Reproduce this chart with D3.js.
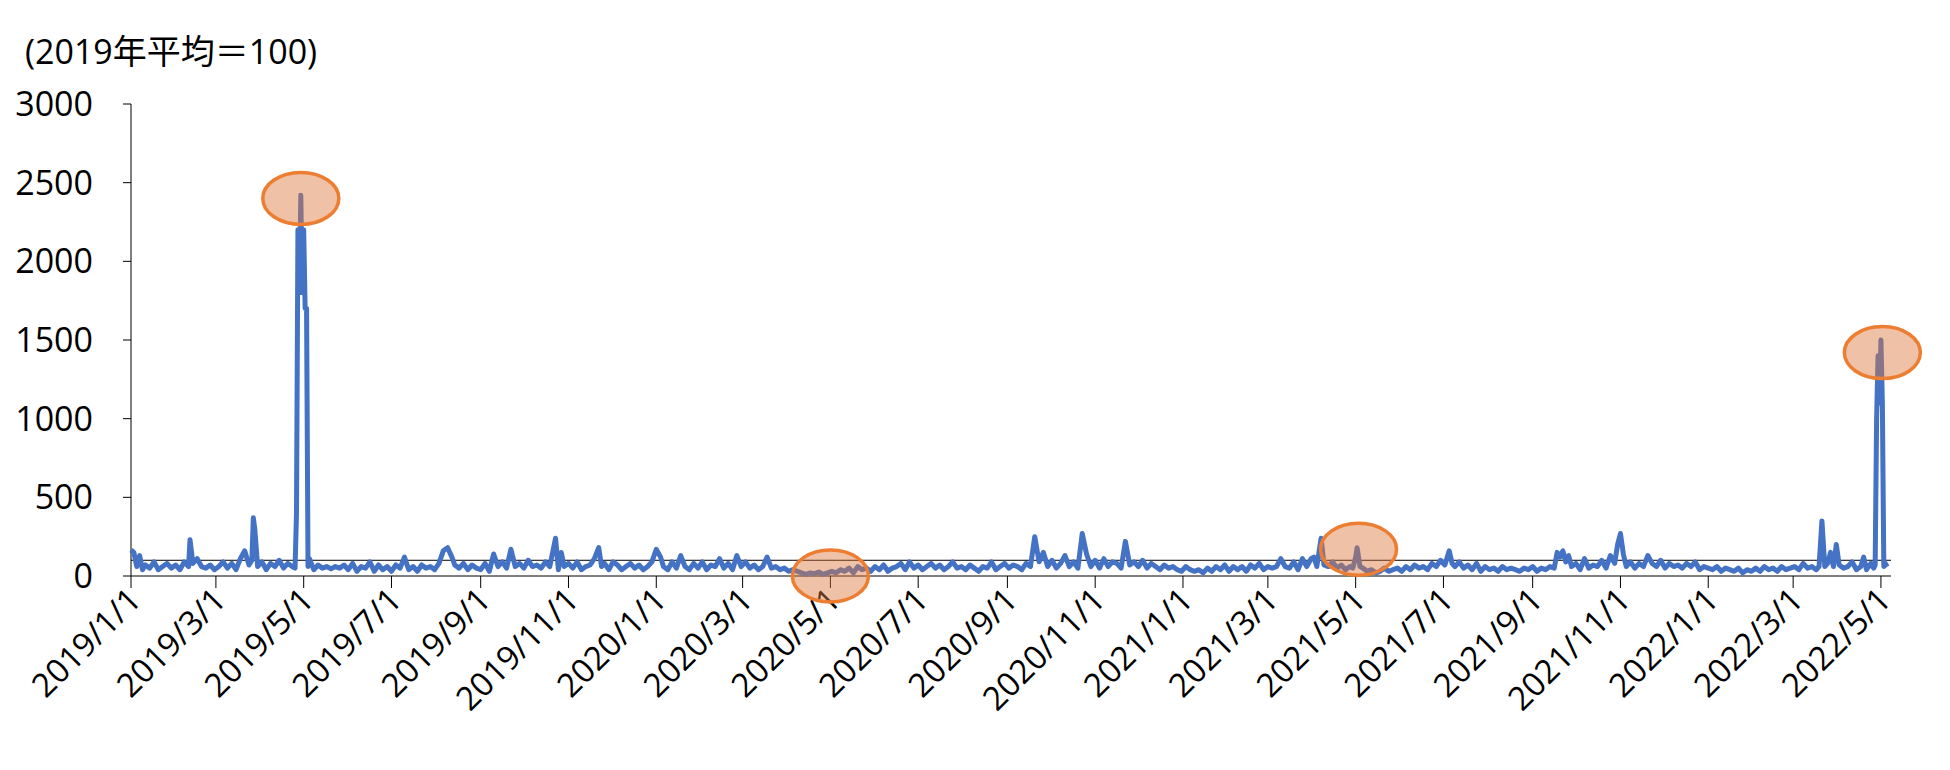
<!DOCTYPE html>
<html><head><meta charset="utf-8">
<script src="https://cdn.jsdelivr.net/npm/d3@7"></script>
<style>body{margin:0;background:#fff}text{font-family:"Open Sans","Noto Sans CJK JP",sans-serif}</style>
</head><body><svg id="c" width="1950" height="770"></svg>
<script>
// [days since 2019/1/1, index value (2019 avg = 100)]
const pts2019 = [[0,165],[2,150],[4,60],[6,130],[8,40],[10,70],[13,50],[16,90],[19,40],[22,60],[25,80],[28,50],[31,70],[34,40],[37,90],[40,60],[41,230],[43,80],[46,110],[49,60],[52,50],[55,70],[58,40],[61,60],[64,90],[67,50],[70,80],[73,40],[76,110],[79,160],[82,70],[84,100],[85,370],[86,300],[88,60],[91,90],[94,40],[97,80],[100,60],[103,100],[106,50],[109,80],[112,60],[114,50],[115,400],[116,2200],[117,1800],[118,2420],[119,1800],[120,2200],[121,1700],[122,1700],[123,60],[124,110],[127,40],[130,70],[133,50],[136,60],[139,45],[142,60],[145,50],[148,70],[151,40],[154,80],[157,30],[160,60],[163,50],[166,90],[169,30],[172,70],[175,40],[178,60],[181,30],[184,70],[187,50],[190,120],[193,40],[196,60],[199,30],[202,70],[205,50],[208,60],[211,40],[214,80],[217,160],[220,180],[223,120],[225,70],[228,50],[231,80],[234,40],[237,70],[240,50],[243,40],[246,80],[249,30],[252,140],[255,60],[258,90],[261,50],[264,170],[267,60],[270,80],[273,50],[276,100],[279,60],[282,70],[285,50],[288,90],[291,60],[295,240],[297,40],[299,150],[301,60],[304,80],[307,50],[310,90],[313,40],[316,60],[319,70],[322,110],[325,180],[327,60],[329,80],[332,40],[335,90],[338,70],[341,40],[344,60],[347,80],[350,50],[353,70],[356,40],[359,60],[362,90]];
const pts2020 = [[365,170],[368,120],[370,60],[373,40],[376,90],[379,50],[382,130],[385,60],[388,40],[391,80],[394,50],[397,90],[400,40],[403,70],[406,60],[409,110],[412,50],[415,80],[418,40],[421,130],[424,60],[427,90],[430,50],[433,70],[436,40],[439,60],[442,120],[445,50],[448,60],[451,40],[454,50],[457,30],[460,40],[463,30],[466,20],[469,10],[472,20],[475,15],[478,25],[481,10],[484,20],[487,30],[490,20],[493,40],[496,30],[499,50],[502,20],[505,60],[508,40],[511,50],[514,30],[517,60],[520,40],[523,70],[526,30],[529,50],[532,60],[535,80],[538,40],[541,90],[544,50],[547,70],[550,40],[553,60],[556,80],[559,50],[562,70],[565,40],[568,60],[571,90],[574,50],[577,60],[580,40],[583,70],[586,50],[589,30],[592,60],[595,50],[598,90],[601,40],[604,60],[607,80],[610,50],[613,70],[616,60],[619,40],[622,80],[625,60],[628,250],[631,90],[634,150],[637,60],[640,100],[643,50],[646,80],[649,130],[652,60],[655,90],[658,50],[661,270],[664,140],[667,60],[670,100],[673,50],[676,110],[679,60],[682,90],[685,80],[688,50],[691,220],[694,70],[697,90],[700,60],[703,100],[706,50],[709,80],[712,60],[715,40],[718,70],[721,50],[724,60],[727,40]];
const pts2021 = [[730,30],[733,60],[736,40],[739,30],[742,40],[745,20],[748,50],[751,30],[754,60],[757,40],[760,70],[763,30],[766,60],[769,40],[772,60],[775,30],[778,70],[781,50],[784,80],[787,40],[790,60],[793,50],[796,60],[799,110],[802,60],[805,50],[808,90],[811,40],[814,110],[817,60],[820,110],[822,120],[824,60],[827,240],[829,70],[832,60],[835,90],[838,50],[841,70],[844,40],[847,60],[849,50],[851,120],[852,180],[853,120],[854,60],[856,50],[859,30],[862,40],[865,20],[868,30],[871,50],[874,30],[877,40],[880,50],[883,30],[886,60],[889,40],[892,70],[895,50],[898,60],[901,40],[904,80],[907,60],[910,100],[913,70],[916,160],[918,80],[920,60],[923,90],[926,50],[929,70],[932,40],[935,80],[938,30],[941,60],[944,40],[947,50],[950,30],[953,60],[956,40],[959,50],[962,40],[965,30],[968,50],[971,40],[974,60],[977,30],[980,50],[983,40],[986,60],[989,50],[991,150],[993,120],[995,160],[997,90],[999,130],[1001,60],[1004,80],[1007,40],[1010,110],[1013,50],[1016,70],[1019,60],[1022,100],[1025,50],[1028,130],[1031,80],[1033,200],[1035,270],[1037,140],[1039,60],[1042,90],[1045,50],[1048,80],[1051,60],[1054,130],[1057,80],[1060,60],[1063,100],[1066,50],[1069,80],[1072,60],[1075,70],[1078,50],[1081,80],[1084,60],[1087,90],[1090,40],[1093,60]];
const pts2022 = [[1096,50],[1099,40],[1102,60],[1105,30],[1108,50],[1111,40],[1114,30],[1117,50],[1120,20],[1123,40],[1126,30],[1129,50],[1132,30],[1135,60],[1138,40],[1141,50],[1144,30],[1147,60],[1150,40],[1153,50],[1156,60],[1159,40],[1162,80],[1165,50],[1168,60],[1171,40],[1173,60],[1175,350],[1177,60],[1179,80],[1181,150],[1183,60],[1185,200],[1187,70],[1190,50],[1193,60],[1196,90],[1199,40],[1202,60],[1204,120],[1206,40],[1209,80],[1211,50],[1212,70],[1213,1000],[1214,1400],[1215,1100],[1216,1500],[1217,1100],[1218,60],[1219,70],[1221,80]];
const yTicks = [0,500,1000,1500,2000,2500,3000];
const xTickLabels = ["2019/1/1","2019/3/1","2019/5/1","2019/7/1","2019/9/1","2019/11/1","2020/1/1","2020/3/1","2020/5/1","2020/7/1","2020/9/1","2020/11/1","2021/1/1","2021/3/1","2021/5/1","2021/7/1","2021/9/1","2021/11/1","2022/1/1","2022/3/1","2022/5/1"];
const highlights = ["2019/4/29","2020/5/1","2021/5/3","2022/5/2"];
const highlightVals = [2400,0,170,1420];

const parse = d3.timeParse("%Y/%m/%d");
const t0 = parse("2019/1/1");
const data = pts2019.concat(pts2020, pts2021, pts2022).map(p => ({date: d3.timeDay.offset(t0, p[0]), v: p[1]}));

const svg = d3.select("#c");
const x = d3.scaleTime().domain([t0, parse("2022/5/8")]).range([131, 1891]);
const y = d3.scaleLinear().domain([0,3000]).range([576, 104]);

svg.append("line").attr("x1",131).attr("x2",131).attr("y1",y(3000)).attr("y2",y(0)).attr("stroke","#000");
svg.selectAll(".yt").data(yTicks).join("line").attr("x1",123).attr("x2",131)
  .attr("y1",d=>y(d)).attr("y2",d=>y(d)).attr("stroke","#000");
svg.selectAll(".yl").data(yTicks).join("text").attr("x",93).attr("y",d=>y(d)+12)
  .attr("text-anchor","end").attr("font-size",34).text(d=>d);

svg.append("line").attr("x1",131).attr("x2",1891).attr("y1",y(0)).attr("y2",y(0)).attr("stroke","#000");
svg.append("line").attr("x1",131).attr("x2",1891).attr("y1",y(100)).attr("y2",y(100)).attr("stroke","#000");
svg.selectAll(".xt").data(xTickLabels).join("line").attr("x1",d=>x(parse(d))).attr("x2",d=>x(parse(d)))
  .attr("y1",y(0)).attr("y2",y(0)+12).attr("stroke","#000");
svg.selectAll(".xl").data(xTickLabels).join("text")
  .attr("transform",d=>`translate(${x(parse(d))+12},${y(0)+26}) rotate(-45)`)
  .attr("text-anchor","end").attr("font-size",33).text(d=>d);

svg.append("text").attr("x",25).attr("y",64).attr("font-size",34).text("(2019年平均＝100)");

svg.append("path").datum(data).attr("fill","none").attr("stroke","#4472C4").attr("stroke-width",5)
  .attr("stroke-linejoin","round")
  .attr("d", d3.line().x(d=>x(d.date)).y(d=>y(d.v)));

svg.selectAll(".hl").data(highlights).join("ellipse")
  .attr("cx",d=>x(parse(d))).attr("cy",(d,i)=>y(highlightVals[i]))
  .attr("rx",38).attr("ry",26)
  .attr("fill","rgba(220,120,60,0.45)").attr("stroke","#ED7D31").attr("stroke-width",3.5);
</script></body></html>
